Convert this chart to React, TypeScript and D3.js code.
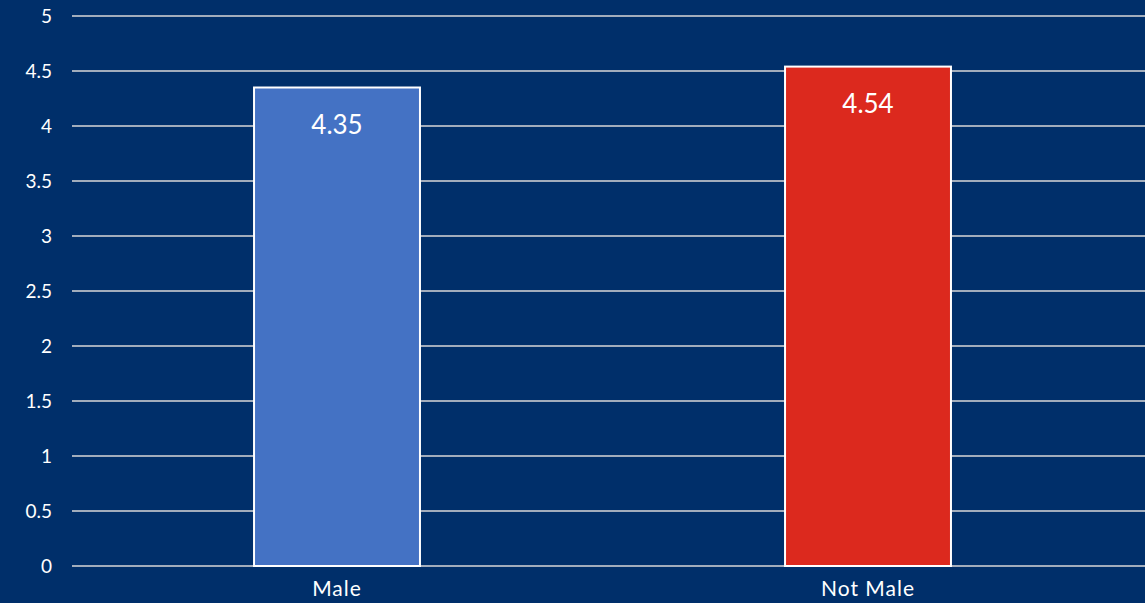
import * as d3 from 'd3';

const categories = ['Male', 'Not Male'];
const values = [4.35, 4.54];
const barColors = ['#4472c4', '#dc291e'];
const yTicks = [0, 0.5, 1, 1.5, 2, 2.5, 3, 3.5, 4, 4.5, 5];

const width = 1145;
const height = 603;
const bg = '#002f6a';
const font = 'Lato, "Open Sans", sans-serif';

export default function App() {
  const x = d3
    .scaleBand<string>()
    .domain(categories)
    .range([71.5, 1133.5])
    .paddingInner(0.6875)
    .paddingOuter(0.34375);

  const y = d3.scaleLinear().domain([0, 5]).range([566, 16]);

  return (
    <svg
      width={width}
      height={height}
      style={{ position: 'absolute', left: 0, top: 0, display: 'block' }}
    >
      <rect width={width} height={height} fill={bg} />
      {yTicks.map((t) => (
        <g key={t}>
          <line
            x1={72}
            x2={width}
            y1={y(t)}
            y2={y(t)}
            stroke="#d9d9d9"
            strokeWidth={1.5}
          />
          <text
            x={52}
            y={y(t)}
            dy="0.35em"
            textAnchor="end"
            fill="#fff"
            fontFamily={font}
            fontSize={19}
          >
            {t}
          </text>
        </g>
      ))}
      {categories.map((c, i) => (
        <g key={c}>
          <rect
            x={x(c)}
            y={y(values[i])}
            width={x.bandwidth()}
            height={y(0) - y(values[i])}
            fill={barColors[i]}
            stroke="#fff"
            strokeWidth={2}
          />
          <text
            x={(x(c) ?? 0) + x.bandwidth() / 2}
            y={y(values[i]) + 46}
            textAnchor="middle"
            fill="#fff"
            fontFamily={font}
            fontSize={26}
          >
            {values[i]}
          </text>
          <text
            x={(x(c) ?? 0) + x.bandwidth() / 2}
            y={596}
            textAnchor="middle"
            fill="#fff"
            fontFamily={font}
            fontSize={21}
            letterSpacing={1}
          >
            {c}
          </text>
        </g>
      ))}
    </svg>
  );
}
